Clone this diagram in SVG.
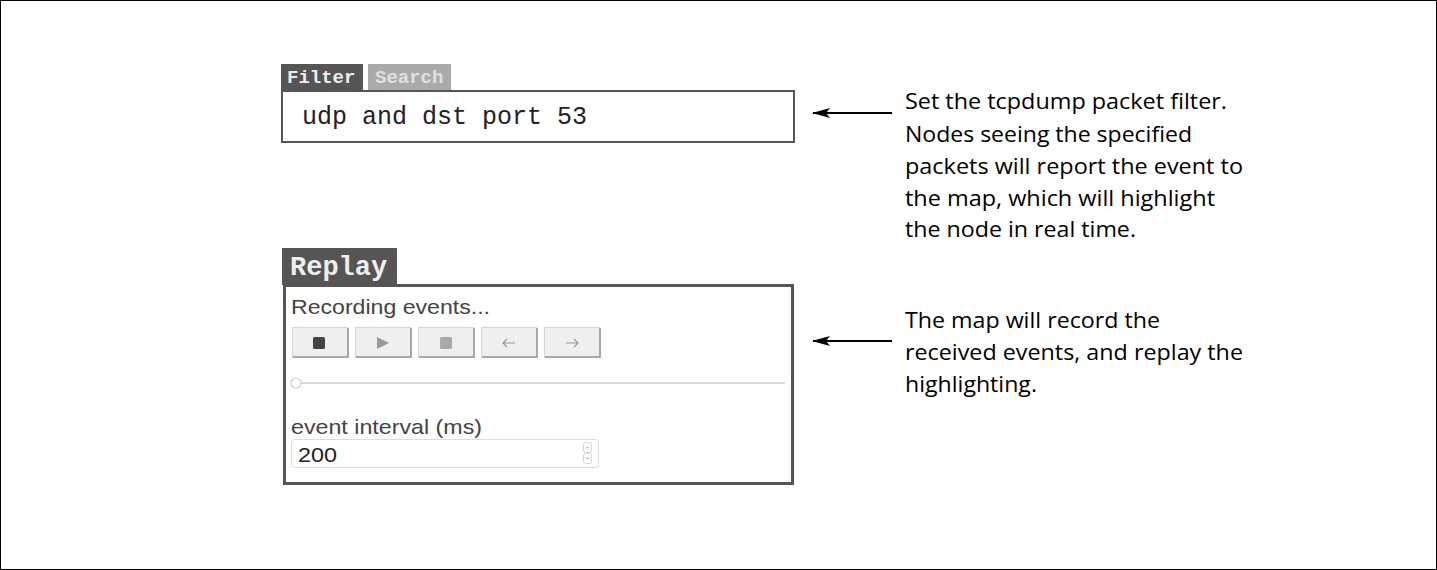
<svg xmlns="http://www.w3.org/2000/svg" width="1437" height="570" viewBox="0 0 1437 570">
<defs>
<style>
.mono{font-family:"Liberation Mono","DejaVu Sans Mono",monospace;}
.sans{font-family:"Liberation Sans",Arial,sans-serif;fill:#444;}
.note{font-family:"Open Sans","Noto Sans",sans-serif;font-size:21px;fill:#000;}
.btn{fill:#efefef;stroke:#d4d4d4;stroke-width:1;}
.btnsh{fill:none;stroke:#a8a8a8;stroke-width:2;}
.conn{stroke:#000;stroke-width:2;fill:none;}
</style>
<marker id="ah" viewBox="0 0 18 10" refX="17" refY="5" markerWidth="18" markerHeight="10" markerUnits="userSpaceOnUse" orient="auto">
<path d="M18,5 L0,0 L4,5 L0,10 Z" fill="#000"/>
</marker>
</defs>
<rect x="0" y="0" width="1437" height="570" fill="#fff"/>
<rect x="0.5" y="0.5" width="1436" height="569" fill="none" stroke="#000" stroke-width="1"/>

<g id="filter-panel">
<rect x="281" y="64" width="82" height="26" fill="#555"/>
<text x="287" y="83" class="mono" font-size="19" font-weight="bold" fill="#eee">Filter</text>
<rect x="368" y="64" width="83" height="26" fill="#aaa"/>
<text x="375" y="83" class="mono" font-size="19" font-weight="bold" fill="#e0e0e0">Search</text>
<rect x="282" y="91" width="512" height="51" fill="#fff" stroke="#555" stroke-width="2"/>
<text x="302" y="124" class="mono" font-size="25" fill="#222">udp and dst port 53</text>
</g>

<g id="replay-panel">
<rect x="282" y="248" width="115" height="37" fill="#555"/>
<text x="290" y="275" class="mono" font-size="27" font-weight="bold" fill="#eee">Replay</text>
<rect x="284.5" y="285.5" width="508" height="198" fill="#fff" stroke="#555" stroke-width="3"/>
<text x="291" y="314" class="sans" font-size="21" textLength="199" lengthAdjust="spacingAndGlyphs">Recording events...</text>
<g id="buttons">
<rect x="292.5" y="327.5" width="55" height="30" class="btn"/>
<path d="M293,357 H348 V328" class="btnsh"/>
<rect x="313" y="337" width="12" height="12" rx="1.5" fill="#444"/>
<rect x="355.5" y="327.5" width="55" height="30" class="btn"/>
<path d="M356,357 H411 V328" class="btnsh"/>
<path d="M377,337 L389,343 L377,349 Z" fill="#999"/>
<rect x="418.5" y="327.5" width="55" height="30" class="btn"/>
<path d="M419,357 H474 V328" class="btnsh"/>
<rect x="440" y="337" width="12" height="12" rx="1.5" fill="#aaa"/>
<rect x="481.5" y="327.5" width="55" height="30" class="btn"/>
<path d="M482,357 H537 V328" class="btnsh"/>
<path d="M503,343 H515 M507,339 L503,343 L507,347" fill="none" stroke="#999" stroke-width="1.2"/>
<rect x="544.5" y="327.5" width="55" height="30" class="btn"/>
<path d="M545,357 H600 V328" class="btnsh"/>
<path d="M566,343 H578 M574,339 L578,343 L574,347" fill="none" stroke="#999" stroke-width="1.2"/>
</g>
<line x1="301" y1="383" x2="785" y2="383" stroke="#ccc" stroke-width="1.5"/>
<circle cx="296" cy="383" r="5" fill="#fff" stroke="#ccc" stroke-width="1.2"/>
<text x="291" y="434" class="sans" font-size="21" textLength="191" lengthAdjust="spacingAndGlyphs">event interval (ms)</text>
<rect x="291.5" y="439.5" width="307" height="28" rx="3" fill="#fff" stroke="#ddd" stroke-width="1"/>
<text x="298" y="462" font-family="Liberation Sans,Arial,sans-serif" font-size="21" fill="#222" textLength="39" lengthAdjust="spacingAndGlyphs">200</text>
<rect x="583.5" y="442.5" width="8" height="10" rx="2" fill="#fff" stroke="#ccc" stroke-width="0.8"/>
<rect x="583.5" y="453.5" width="8" height="10" rx="2" fill="#fff" stroke="#ccc" stroke-width="0.8"/>
<path d="M586,448.5 L587.5,447 L589,448.5" fill="none" stroke="#777" stroke-width="0.8"/>
<path d="M586,457.5 L587.5,459 L589,457.5" fill="none" stroke="#777" stroke-width="0.8"/>
</g>

<g id="connectors">
<line x1="892" y1="113" x2="813" y2="113" class="conn" marker-end="url(#ah)"/>
<line x1="892" y1="341" x2="813" y2="341" class="conn" marker-end="url(#ah)"/>
</g>

<g id="note-filter">
<text class="note">
<tspan x="905" y="109" textLength="322" lengthAdjust="spacingAndGlyphs">Set the tcpdump packet filter.</tspan>
<tspan x="905" y="142" textLength="287" lengthAdjust="spacingAndGlyphs">Nodes seeing the specified</tspan>
<tspan x="905" y="174" textLength="338" lengthAdjust="spacingAndGlyphs">packets will report the event to</tspan>
<tspan x="905" y="206" textLength="310" lengthAdjust="spacingAndGlyphs">the map, which will highlight</tspan>
<tspan x="905" y="237" textLength="231" lengthAdjust="spacingAndGlyphs">the node in real time.</tspan>
</text>
</g>

<g id="note-replay">
<text class="note">
<tspan x="905" y="328" textLength="255" lengthAdjust="spacingAndGlyphs">The map will record the</tspan>
<tspan x="905" y="360" textLength="338" lengthAdjust="spacingAndGlyphs">received events, and replay the</tspan>
<tspan x="905" y="392" textLength="132" lengthAdjust="spacingAndGlyphs">highlighting.</tspan>
</text>
</g>
</svg>
